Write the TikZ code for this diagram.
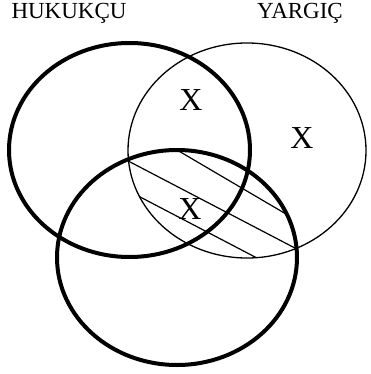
\documentclass[tikz,border=0pt]{standalone}
\usepackage{fontspec}
\setmainfont{Liberation Serif}
\usepackage{tikz}
\usetikzlibrary{
  calc,
  positioning
}
\definecolor{vnInk}{HTML}{000000}
\tikzset{
  setbold/.style={draw=vnInk, line width=4pt},
  setthin/.style={draw=vnInk, line width=1.3pt},
  hatch/.style={draw=vnInk, line width=1.2pt},
  setname/.style={font=\fontsize{23}{23}\selectfont, inner sep=0pt},
  xmark/.style={font=\fontsize{32}{32}\selectfont, inner sep=0pt}
}

\begin{document}
\begin{tikzpicture}[x=1pt, y=-1pt]
  \useasboundingbox (0,0) rectangle (370,374);
  % set centres
  \coordinate (hukC) at (129.5,150);
  \coordinate (yarC) at (247,150.5);
  \coordinate (botC) at (177,257.5);
  % hatched part: YARGIC and bottom set
  \begin{scope}
    \clip (yarC) ellipse (119 and 107.5);
    \clip (botC) ellipse (120 and 107.5);
    \foreach \ax/\ay/\bx/\by in {
      160/140/303/224,
      110/151.5/315/258.5,
      122/187.5/277/268.5}{
      \draw[hatch] (\ax,\ay) -- (\bx,\by);
    }
  \end{scope}
  \draw[setbold] (hukC) ellipse (120.5 and 107);
  \draw[setthin] (yarC) ellipse (119 and 107.5);
  \draw[setbold] (botC) ellipse (120 and 107.5);
  \node[setname] (huk) at (69,13.5) {HUKUKÇU};
  \node[setname] (yar) at (300,13.5) {YARGIÇ};
  \node[xmark] (xtop) at (191,100) {X};
  \node[xmark] (xright) at (302,138) {X};
  \node[xmark] (xmid) at (190,209) {X};
\end{tikzpicture}
\end{document}
